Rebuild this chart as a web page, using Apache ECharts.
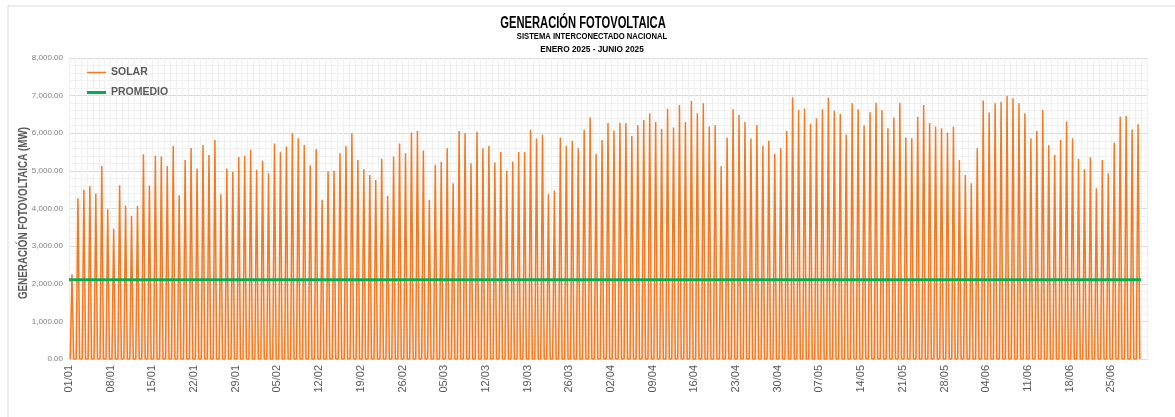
<!DOCTYPE html>
<html>
<head>
<meta charset="utf-8">
<script src="https://cdn.jsdelivr.net/npm/echarts@6/dist/echarts.min.js"></script>
<style>
  html, body { margin: 0; padding: 0; background: #fff; }
  #chart { width: 1175px; height: 417px; }
</style>
</head>
<body>
<div id="chart"></div>
<script>
// picos diarios de generación solar (MW), 01/01 a 29/06
const picos = [
  2250, 4270, 4500, 4600, 4400, 5130, 3980, 3460, 4620, 4080, 3810, 4070, 5440, 4610,
  5400, 5380, 5130, 5660, 4350, 5290, 5610, 5060, 5690, 5420, 5820, 4380, 5060, 4970,
  5370, 5400, 5560, 5030, 5270, 4940, 5730, 5510, 5650, 6000, 5870, 5690, 5150, 5580,
  4230, 4980, 5000, 5470, 5660, 6000, 5290, 5040, 4890, 4760, 5320, 4340, 5380, 5730,
  5470, 6020, 6060, 5540, 4230, 5160, 5240, 5600, 4670, 6060, 6000, 5200, 6040, 5600,
  5660, 5220, 5500, 5000, 5250, 5500, 5500, 6100, 5860, 5960, 4380, 4480, 5890, 5660,
  5800, 5600, 6090, 6420, 5450, 5820, 6270, 6070, 6280, 6270, 5930, 6210, 6350, 6530,
  6300, 6120, 6650, 6150, 6750, 6300, 6860, 6530, 6800, 6180, 6210, 5120, 5880, 6640,
  6490, 6300, 5860, 6220, 5660, 5800, 5450, 5600, 6060, 6960, 6620, 6660, 6250, 6400,
  6640, 6950, 6600, 6510, 5960, 6800, 6640, 6210, 6560, 6810, 6620, 6130, 6420, 6810,
  5890, 5870, 6440, 6750, 6270, 6180, 6130, 6020, 6180, 5290, 4890, 4670, 5600, 6870,
  6550, 6800, 6840, 6990, 6930, 6800, 6530, 5870, 6060, 6620, 5680, 5420, 5820, 6310,
  5870, 5320, 5040, 5360, 4540, 5290, 4940, 5750, 6440, 6460, 6100, 6240
];
const promedio = 2106;
// horas del día: amanecer, mediodía, ocaso
const horasDia = [5, 12, 19];
const diasEje = 181;

const serieSolar = [];
picos.forEach((p, d) => {
  serieSolar.push([d * 24 + horasDia[0], 0]);
  serieSolar.push([d * 24 + horasDia[1], p]);
  serieSolar.push([d * 24 + horasDia[2], 0]);
});
const seriePromedio = [[0, promedio], [picos.length * 24, promedio]];

const fechaLabel = v => {
  const f = new Date(Date.UTC(2025, 0, 1) + v * 3600000);
  const dd = String(f.getUTCDate()).padStart(2, '0');
  const mm = String(f.getUTCMonth() + 1).padStart(2, '0');
  return dd + '/' + mm;
};

const fuente = 'Liberation Sans';
const chart = echarts.init(document.getElementById('chart'));
chart.setOption({
  animation: false,
  backgroundColor: '#fff',
  graphic: [{
    type: 'rect', silent: true, z: -10,
    shape: { x: 8, y: 6, width: 1200, height: 500 },
    style: { fill: 'none', stroke: '#d9d9d9', lineWidth: 1 }
  }, {
    type: 'text', x: 583, y: 24, scaleX: 0.7,
    style: { text: 'GENERACIÓN FOTOVOLTAICA', fontFamily: fuente, fontWeight: 'bold', fontSize: 16, fill: '#000', align: 'center', verticalAlign: 'middle' }
  }, {
    type: 'text', x: 592, y: 37, scaleX: 0.85,
    style: { text: 'SISTEMA INTERCONECTADO NACIONAL', fontFamily: fuente, fontWeight: 'bold', fontSize: 9, fill: '#000', align: 'center', verticalAlign: 'middle' }
  }, {
    type: 'text', x: 592, y: 50, scaleX: 0.92,
    style: { text: 'ENERO 2025 - JUNIO 2025', fontFamily: fuente, fontWeight: 'bold', fontSize: 9, fill: '#000', align: 'center', verticalAlign: 'middle' }
  }, {
    type: 'text', x: 24, y: 213, rotation: Math.PI / 2, scaleX: 0.82,
    style: { text: 'GENERACIÓN FOTOVOLTAICA (MW)', fontFamily: fuente, fontWeight: 'bold', fontSize: 12, fill: '#595959', align: 'center', verticalAlign: 'middle' }
  }],
  legend: [{
    orient: 'vertical', left: 87, top: 67, padding: 0, itemWidth: 19, itemHeight: 1.5,
    icon: 'rect',
    textStyle: { fontFamily: fuente, fontWeight: 'bold', fontSize: 10.5, color: '#595959' },
    data: ['SOLAR']
  }, {
    orient: 'vertical', left: 87, top: 87, padding: 0, itemWidth: 19, itemHeight: 3,
    icon: 'rect',
    textStyle: { fontFamily: fuente, fontWeight: 'bold', fontSize: 10.5, color: '#595959' },
    data: ['PROMEDIO']
  }],
  grid: { left: 69, right: 28, top: 58, bottom: 58 },
  xAxis: [{
    type: 'value', min: 0, max: diasEje * 24, interval: 168,
    axisLine: { lineStyle: { color: '#d9d9d9' } },
    axisTick: { show: false },
    axisLabel: {
      rotate: 90, margin: 6, fontSize: 11, color: '#595959', fontFamily: fuente,
      showMaxLabel: false, formatter: fechaLabel
    },
    splitLine: { show: true, lineStyle: { color: '#d9d9d9', width: 1 } }
  }, {
    type: 'value', min: 0, max: diasEje * 24, interval: 24, position: 'bottom',
    axisLine: { show: false }, axisTick: { show: false }, axisLabel: { show: false },
    splitLine: { show: true, lineStyle: { color: '#f0f0f0', width: 1 } }
  }],
  yAxis: {
    type: 'value', min: 0, max: 8000, interval: 1000,
    axisLine: { show: false }, axisTick: { show: false },
    axisLabel: {
      fontSize: 8, color: '#7f7f7f', margin: 6, fontFamily: fuente,
      formatter: v => v.toLocaleString('en-US', { minimumFractionDigits: 2, maximumFractionDigits: 2 })
    },
    splitLine: { lineStyle: { color: '#d9d9d9' } },
    minorSplitLine: { show: true, lineStyle: { color: '#f0f0f0' } },
    minorTick: { show: false, splitNumber: 5 }
  },
  series: [{
    name: 'SOLAR', type: 'line', xAxisIndex: 0, symbol: 'none',
    data: serieSolar,
    lineStyle: { color: '#F47920', width: 1.5 },
    areaStyle: { color: 'rgba(247,150,80,0.4)' },
    itemStyle: { color: '#F47920' }
  }, {
    name: 'PROMEDIO', type: 'line', xAxisIndex: 0, symbol: 'none',
    data: seriePromedio,
    lineStyle: { color: '#00B050', width: 3 },
    itemStyle: { color: '#00B050' }
  }]
});
</script>
</body>
</html>
